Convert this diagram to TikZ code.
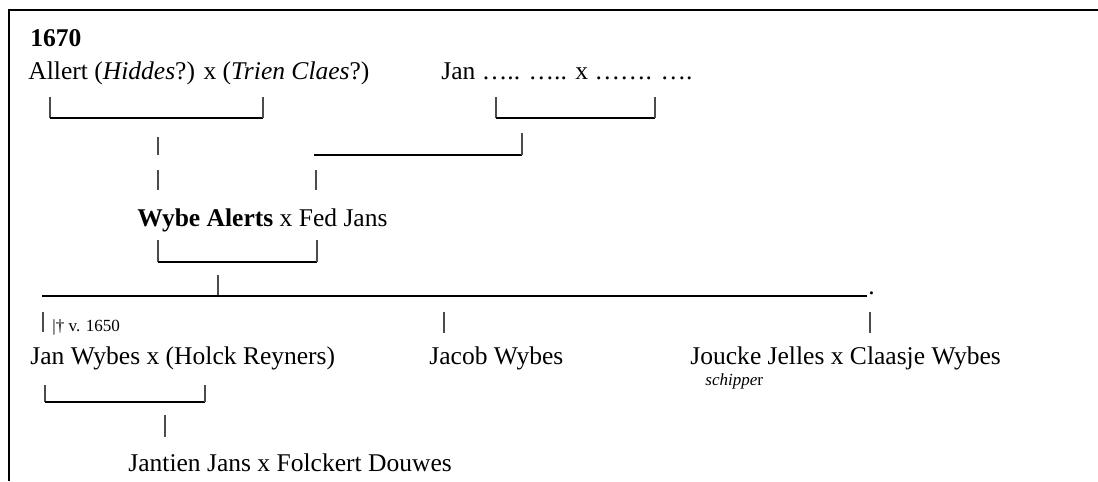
\documentclass[tikz,border=0pt]{standalone}
\usepackage{fontspec}
\setmainfont{Liberation Serif}
\begin{document}
\begin{tikzpicture}[x=0.47pt,y=-0.47pt,
  txt/.style={anchor=base west,inner sep=0pt,font=\fontsize{12}{14}\selectfont},
  small/.style={anchor=base west,inner sep=0pt,font=\fontsize{8}{10}\selectfont},
  tick/.style={line width=0.5pt,black!70},
  bar/.style={line width=0.95pt},
  frame/.style={line width=0.95pt}]
\useasboundingbox (0,0) rectangle (1098,481);
% frame
\coordinate (fb) at (9,481);
\coordinate (fc) at (9,10);
\coordinate (fr) at (1098,10);
\draw[frame] (fb) -- (fc) -- (fr);
% texts
\node[anchor=base west,inner sep=0pt,font=\bfseries\fontsize{12}{14}\selectfont] (yr) at (30,46) {1670};
\node[txt] (allert) at (28,79) {Allert (\textit{Hiddes}?) x (\textit{Trien Claes}?)};
\node[txt] (jan) at (441,79) {Jan ….. ….. x ……. ….};
\node[txt] (wybe) at (137,226) {\textbf{Wybe Alerts} x Fed Jans};
\node[txt] (dot) at (868,294) {.};
\node[small] (dag) at (52,331) {|† v. 1650};
\node[txt] (janw) at (30,364) {Jan Wybes x (Holck Reyners)};
\node[txt] (jacob) at (429,364) {Jacob Wybes};
\node[txt] (joucke) at (690,364) {Joucke Jelles x Claasje Wybes};
\node[small] (schip) at (705,385) {\textit{schippe}r};
\node[txt] (jantien) at (128,471) {Jantien Jans x Folckert Douwes};
% Allert bracket
\coordinate (a1) at (50,97); \coordinate (a2) at (50,118);
\coordinate (a3) at (263,118); \coordinate (a4) at (263,97);
\draw[tick] (a1) -- (a2); \draw[bar] (a2) -- (a3); \draw[tick] (a3) -- (a4);
% Jan bracket
\coordinate (b1) at (496,97); \coordinate (b2) at (496,118);
\coordinate (b3) at (655,118); \coordinate (b4) at (655,97);
\draw[tick] (b1) -- (b2); \draw[bar] (b2) -- (b3); \draw[tick] (b3) -- (b4);
% descent Allert
\coordinate (c1) at (158,137); \coordinate (c2) at (158,155);
\coordinate (c3) at (158,170); \coordinate (c4) at (158,190);
\draw[tick] (c1) -- (c2); \draw[tick] (c3) -- (c4);
% descent Jan
\coordinate (d1) at (314,155); \coordinate (d2) at (522,155); \coordinate (d3) at (522,133);
\draw[bar] (d1) -- (d2); \draw[tick] (d2) -- (d3);
\coordinate (e1) at (316,170); \coordinate (e2) at (316,190);
\draw[tick] (e1) -- (e2);
% Wybe bracket
\coordinate (f1) at (158,240); \coordinate (f2) at (158,262);
\coordinate (f3) at (317,262); \coordinate (f4) at (317,240);
\draw[tick] (f1) -- (f2); \draw[bar] (f2) -- (f3); \draw[tick] (f3) -- (f4);
\coordinate (g1) at (218,275); \coordinate (g2) at (218,296);
\draw[tick] (g1) -- (g2);
% long line
\coordinate (h1) at (42,296); \coordinate (h2) at (867,296);
\draw[bar] (h1) -- (h2);
% children ticks
\coordinate (i1) at (43,312); \coordinate (i2) at (43,332);
\coordinate (j1) at (444,312); \coordinate (j2) at (444,333);
\coordinate (k1) at (870,312); \coordinate (k2) at (870,333);
\draw[tick] (i1) -- (i2); \draw[tick] (j1) -- (j2); \draw[tick] (k1) -- (k2);
% Jan Wybes bracket
\coordinate (l1) at (45,385); \coordinate (l2) at (45,402);
\coordinate (l3) at (205,402); \coordinate (l4) at (205,385);
\draw[tick] (l1) -- (l2); \draw[bar] (l2) -- (l3); \draw[tick] (l3) -- (l4);
\coordinate (m1) at (165,415); \coordinate (m2) at (165,437);
\draw[tick] (m1) -- (m2);
\end{tikzpicture}
\end{document}
